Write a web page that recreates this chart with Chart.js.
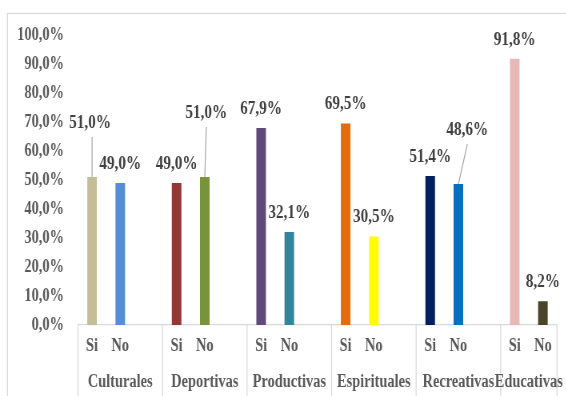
<!DOCTYPE html>
<html>
<head>
<meta charset="utf-8">
<script src="https://cdn.jsdelivr.net/npm/chart.js@4.4.1/dist/chart.umd.min.js"></script>
<style>
  html, body { margin: 0; padding: 0; background: #fff; overflow: hidden; }
  #wrap { width: 566px; height: 396px; overflow: hidden; }
  /* the Excel export this mimics has narrow, squeezed text */
  #chart { display: block; transform: scaleX(0.8); transform-origin: 0 0; }
</style>
</head>
<body>
<div id="wrap"><canvas id="chart"></canvas></div>
<script>
// Data
const groups = ['Culturales', 'Deportivas', 'Productivas', 'Espirituales', 'Recreativas', 'Educativas']
const answers = ['Si', 'No']
const siValues = [51.0, 49.0, 67.9, 69.5, 51.4, 91.8]
const noValues = [49.0, 51.0, 32.1, 30.5, 48.6, 8.2]
const yTickValues = [0, 10, 20, 30, 40, 50, 60, 70, 80, 90, 100]

// One colour per bar
const siColors = ['#c4bd97', '#953735', '#604a7b', '#e46c0a', '#002060', '#e6b9b8']
const noColors = ['#558ed5', '#77933c', '#31859c', '#ffff00', '#0070c0', '#4a452a']

// Labels pulled away from their bar, with a leader line: [dx, dy, lineDx]
const leaderLabels = {
  'Culturales|Si': [-2, -54, 0],
  'Deportivas|No': [1.5, -64, 1.5],
  'Recreativas|No': [9, -54, 9]
}

const SX = 0.8
const W = Math.round(566 / SX)
const H = 396
const AXIS_Y = 325
const PLOT_LEFT = 78 / SX
const PLOT_RIGHT = 557 / SX
const FONT = '"Liberation Serif", "Times New Roman", serif'

// flat category list: Si, No and an empty spacer slot between groups
const labels = []
const values = []
const colors = []
const keys = []
const groupStart = []
groups.forEach((g, gi) => {
  groupStart.push(labels.length)
  answers.forEach((a, ai) => {
    labels.push(a)
    values.push(ai === 0 ? siValues[gi] : noValues[gi])
    colors.push(ai === 0 ? siColors[gi] : noColors[gi])
    keys.push(g + '|' + a)
  })
  if (gi < groups.length - 1) {
    labels.push('')
    values.push(null)
    colors.push('transparent')
    keys.push('')
  }
})

const pct = v => v.toFixed(1).replace('.', ',') + '%'

const canvas = document.getElementById('chart')
canvas.width = W
canvas.height = H

const framePlugin = {
  id: 'frame',
  beforeDraw(chart) {
    const ctx = chart.ctx
    ctx.save()
    ctx.fillStyle = '#ffffff'
    ctx.fillRect(0, 0, W, H)
    ctx.strokeStyle = '#d9d9d9'
    ctx.lineWidth = 1.25
    ctx.strokeRect(7.5 / SX, 13.5, W + 20, H + 20)
    ctx.restore()
  }
}

const groupAxisPlugin = {
  id: 'groupAxis',
  afterDraw(chart) {
    const ctx = chart.ctx
    const x = chart.scales.x
    const n = labels.length
    const cw = (x.right - x.left) / n
    ctx.save()
    ctx.strokeStyle = '#d9d9d9'
    ctx.lineWidth = 1.25
    const edges = groupStart.map(i => x.getPixelForValue(i) - cw / 2)
    edges.push(x.right)
    edges.forEach(ex => {
      ctx.beginPath()
      ctx.moveTo(ex, chart.chartArea.bottom)
      ctx.lineTo(ex, H)
      ctx.stroke()
    })
    ctx.fillStyle = '#595959'
    ctx.font = 'bold 18px ' + FONT
    ctx.textAlign = 'center'
    ctx.textBaseline = 'middle'
    groups.forEach((g, gi) => {
      ctx.fillText(g, (edges[gi] + edges[gi + 1]) / 2, 382)
    })
    ctx.restore()
  }
}

const valueLabelPlugin = {
  id: 'valueLabels',
  afterDatasetsDraw(chart) {
    const ctx = chart.ctx
    const meta = chart.getDatasetMeta(0)
    ctx.save()
    ctx.font = 'bold 19px ' + FONT
    ctx.textAlign = 'center'
    ctx.textBaseline = 'middle'
    meta.data.forEach((bar, i) => {
      const v = values[i]
      if (v == null) return
      const lead = leaderLabels[keys[i]]
      let lx = bar.x
      let ly = bar.y - 19
      if (lead) {
        lx = bar.x + lead[0] / SX
        ly = bar.y + lead[1]
        ctx.strokeStyle = '#a6a6a6'
        ctx.lineWidth = 1.2
        ctx.beginPath()
        ctx.moveTo(bar.x, bar.y)
        ctx.lineTo(bar.x + lead[2] / SX, ly + 14)
        ctx.stroke()
      }
      ctx.fillStyle = '#404040'
      ctx.fillText(pct(v), lx, ly)
    })
    ctx.restore()
  }
}

new Chart(canvas, {
  type: 'bar',
  data: {
    labels: labels,
    datasets: [{
      data: values,
      backgroundColor: colors,
      borderWidth: 0,
      barPercentage: 0.34,
      categoryPercentage: 1
    }]
  },
  options: {
    responsive: false,
    animation: false,
    devicePixelRatio: 1,
    layout: {
      padding: { top: 35, right: W - PLOT_RIGHT, bottom: 0, left: 0 }
    },
    plugins: {
      legend: { display: false },
      tooltip: { enabled: false }
    },
    scales: {
      x: {
        grid: { drawOnChartArea: false, drawTicks: false },
        border: { display: true, color: '#d9d9d9', width: 1.25 },
        ticks: {
          autoSkip: false,
          maxRotation: 0,
          padding: 11,
          color: '#595959',
          font: { family: FONT, size: 18, weight: 'bold' }
        },
        afterFit: s => { s.height = H - AXIS_Y }
      },
      y: {
        min: 0,
        max: 100,
        afterBuildTicks: s => { s.ticks = yTickValues.map(v => ({ value: v })) },
        grid: { display: false, drawTicks: false },
        border: { display: false },
        ticks: {
          padding: PLOT_LEFT - 64 / SX,
          color: '#595959',
          font: { family: FONT, size: 18, weight: 'bold' },
          callback: v => pct(v)
        },
        afterFit: s => { s.width = PLOT_LEFT }
      }
    }
  },
  plugins: [framePlugin, groupAxisPlugin, valueLabelPlugin]
})
</script>
</body>
</html>
